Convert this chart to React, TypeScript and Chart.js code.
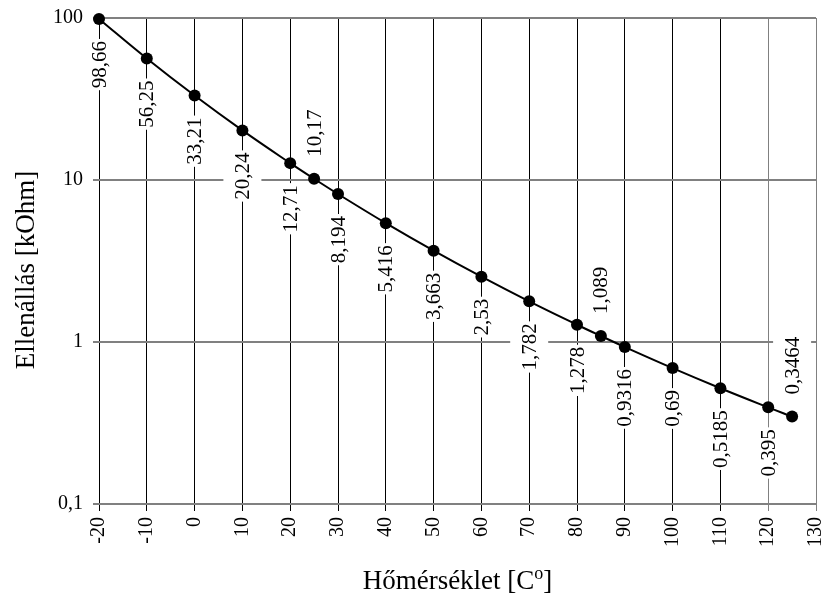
import React, { useEffect, useRef } from "react";
import { Chart, registerables } from "chart.js";

Chart.register(...registerables);

const temperatures = [-20, -10, 0, 10, 20, 25, 30, 40, 50, 60, 70, 80, 85, 90, 100, 110, 120, 125];
const resistances = [98.66, 56.25, 33.21, 20.24, 12.71, 10.17, 8.194, 5.416, 3.663, 2.53, 1.782, 1.278, 1.089, 0.9316, 0.69, 0.5185, 0.395, 0.3464];
const labelsAbove = [25, 85, 125];
const yTickValues = [0.1, 1, 10, 100];
const yTickLabels = ["0,1", "1", "10", "100"];
const xTitle = "Hőmérséklet [C";
const xTitleSup = "o";
const xTitleEnd = "]";
const yTitle = "Ellenállás [kOhm]";

const SERIF = '"Liberation Serif", "Times New Roman", serif';

const fmt = (v: number) => String(v).replace(".", ",");

const labelPlugin = {
  id: "rotLabels",
  beforeDatasetsDraw(chart: any) {
    const ctx = chart.ctx;
    const meta = chart.getDatasetMeta(0);
    ctx.save();
    ctx.font = `21px ${SERIF}`;
    meta.data.forEach((pt: any, i: number) => {
      const text = fmt(resistances[i]);
      const w = ctx.measureText(text).width;
      const gap = 22;
      const above = labelsAbove.includes(temperatures[i]);
      const y0 = above ? pt.y - gap - w - 2 : pt.y + gap - 2;
      ctx.fillStyle = "#fff";
      ctx.fillRect(pt.x - 19, y0, 38, w + 4);
    });
    ctx.restore();
  },
  afterDatasetsDraw(chart: any) {
    const ctx = chart.ctx;
    const meta = chart.getDatasetMeta(0);
    ctx.save();
    ctx.font = `21px ${SERIF}`;
    ctx.fillStyle = "#000";
    ctx.textBaseline = "middle";
    meta.data.forEach((pt: any, i: number) => {
      const text = fmt(resistances[i]);
      const w = ctx.measureText(text).width;
      const gap = 22;
      const above = labelsAbove.includes(temperatures[i]);
      const cy = above ? pt.y - gap - w / 2 : pt.y + gap + w / 2;
      ctx.save();
      ctx.translate(pt.x, cy);
      ctx.rotate(-Math.PI / 2);
      ctx.textAlign = "center";
      ctx.fillText(text, 0, 1);
      ctx.restore();
    });
    ctx.restore();
  },
  afterDraw(chart: any) {
    const ctx = chart.ctx;
    const area = chart.chartArea;
    ctx.save();
    ctx.fillStyle = "#000";
    const big = `27px ${SERIF}`;
    const small = `18px ${SERIF}`;
    ctx.font = big;
    const w1 = ctx.measureText(xTitle).width;
    const w3 = ctx.measureText(xTitleEnd).width;
    ctx.font = small;
    const w2 = ctx.measureText(xTitleSup).width;
    const total = w1 + w2 + w3;
    const cx = (area.left + area.right) / 2;
    let x = cx - total / 2;
    const base = 589;
    ctx.textBaseline = "alphabetic";
    ctx.textAlign = "left";
    ctx.font = big;
    ctx.fillText(xTitle, x, base);
    x += w1;
    ctx.font = small;
    ctx.fillText(xTitleSup, x, base - 10);
    x += w2;
    ctx.font = big;
    ctx.fillText(xTitleEnd, x, base);
    ctx.translate(27, 270);
    ctx.rotate(-Math.PI / 2);
    ctx.textAlign = "center";
    ctx.textBaseline = "middle";
    ctx.font = big;
    ctx.fillText(yTitle, 0, 0);
    ctx.restore();
  },
};

export default function App() {
  const ref = useRef<HTMLCanvasElement | null>(null);
  useEffect(() => {
    if (!ref.current) return;
    const chart = new Chart(ref.current, {
      type: "scatter",
      data: {
        datasets: [
          {
            data: temperatures.map((t, i) => ({ x: t, y: resistances[i] })),
            showLine: true,
            borderColor: "#000",
            borderWidth: 2,
            pointRadius: 6,
            pointBackgroundColor: "#000",
            pointBorderWidth: 0,
            tension: 0.4,
            clip: false,
          } as any,
        ],
      },
      options: {
        animation: false,
        responsive: false,
        plugins: { legend: { display: false }, tooltip: { enabled: false } },
        layout: { padding: { top: 18, right: 6, left: 0, bottom: 0 } },
        scales: {
          x: {
            type: "linear",
            min: -20,
            max: 130,
            border: { display: false },
            grid: {
              color: (c: any) => (c.tick && c.tick.value >= 120 ? "#808080" : "#000"),
              lineWidth: 1,
              tickLength: 7,
            },
            ticks: {
              stepSize: 10,
              minRotation: 90,
              maxRotation: 90,
              padding: 6,
              color: "#000",
              font: { family: SERIF, size: 20 },
            },
            afterFit: (s: any) => {
              s.height = 94;
              s.paddingLeft = 0;
              s.paddingRight = 0;
            },
          },
          y: {
            type: "logarithmic",
            min: 0.1,
            max: 100,
            border: { display: false },
            grid: { color: "#808080", lineWidth: 2, tickLength: 6 },
            afterBuildTicks: (s: any) => {
              s.ticks = yTickValues.map((v) => ({ value: v }));
            },
            ticks: {
              padding: 10,
              color: "#000",
              font: { family: SERIF, size: 20 },
              callback: (v: any) => {
                const idx = yTickValues.indexOf(Number(v));
                return idx >= 0 ? yTickLabels[idx] : "";
              },
            },
            afterFit: (s: any) => {
              s.width = 99;
              s.paddingTop = 0;
              s.paddingBottom = 0;
            },
          },
        },
      },
      plugins: [labelPlugin],
    });
    return () => chart.destroy();
  }, []);
  return (
    <div style={{ position: "absolute", left: 0, top: 0, width: 822, height: 598, background: "#fff" }}>
      <canvas ref={ref} width={822} height={598} />
    </div>
  );
}
